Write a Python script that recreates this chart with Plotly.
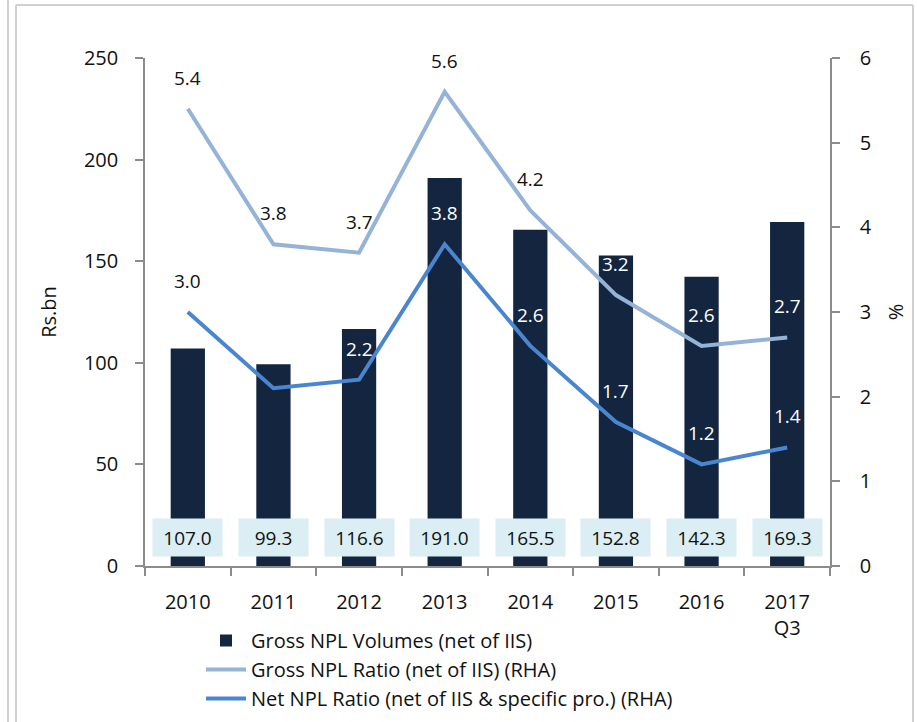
import plotly.graph_objects as go

# Non-performing loans, 2010 - 2017 Q3
years = ["2010", "2011", "2012", "2013", "2014", "2015", "2016", "2017<br>Q3"]
gross_npl_volumes = [107.0, 99.3, 116.6, 191.0, 165.5, 152.8, 142.3, 169.3]   # Rs.bn
gross_npl_ratio = [5.4, 3.8, 3.7, 5.6, 4.2, 3.2, 2.6, 2.7]                    # %
net_npl_ratio = [3.0, 2.1, 2.2, 3.8, 2.6, 1.7, 1.2, 1.4]                       # %

# label colour: white where the label sits on a dark bar
gross_label_colors = ["#111", "#111", "#111", "#111", "#111", "white", "white", "white"]
net_label_colors = ["#111", "white", "white", "white", "white", "white", "white", "white"]

# categories are placed at integer positions on a linear axis
pos = list(range(len(years)))
bounds = [p - 0.5 for p in pos] + [pos[-1] + 0.5]

BAR = "#13253F"
LIGHT = "#95B3D7"
MID = "#4A86D0"
BOX = "#DAEEF3"
GRID = "#8C8C8C"
FONT = "Open Sans"

W, H = 917, 722
L, R, T, B = 145, 87, 58, 156
pw, ph = W - L - R, H - T - B


def px_x(x):
    return (x - L) / pw


def px_y(y):
    return (H - B - y) / ph


fig = go.Figure()

fig.add_trace(go.Bar(
    x=pos, y=gross_npl_volumes, name="Gross NPL Volumes (net of IIS)",
    marker=dict(color=BAR, line=dict(width=0)), width=0.4, yaxis="y",
))
fig.add_trace(go.Scatter(
    x=pos, y=gross_npl_ratio, name="Gross NPL Ratio (net of IIS) (RHA)",
    mode="lines", line=dict(color=LIGHT, width=4), yaxis="y2",
))
fig.add_trace(go.Scatter(
    x=pos, y=net_npl_ratio, name="Net NPL Ratio (net of IIS & specific pro.) (RHA)",
    mode="lines", line=dict(color=MID, width=4), yaxis="y2",
))

annotations = []
# volume labels in boxes at the foot of each bar
for p, v in zip(pos, gross_npl_volumes):
    annotations.append(dict(
        x=p, y=0, xref="x", yref="y", yanchor="bottom", yshift=9,
        text=f"{v:.1f}", showarrow=False, bgcolor=BOX, borderpad=6,
        width=57, height=25, font=dict(family=FONT, size=19, color="#111"),
    ))
# ratio labels above the line points
for series, colors in ((gross_npl_ratio, gross_label_colors), (net_npl_ratio, net_label_colors)):
    for p, v, c in zip(pos, series, colors):
        annotations.append(dict(
            x=p, y=v, xref="x", yref="y2", yshift=31,
            text=f"{v:.1f}", showarrow=False,
            font=dict(family=FONT, size=19, color=c),
        ))

border = dict(type="line", xref="paper", yref="paper", line=dict(color="#D0D0D0", width=2))
shapes = [
    dict(border, x0=px_x(8), x1=px_x(8), y0=px_y(0), y1=px_y(H)),
    dict(border, x0=px_x(16), x1=px_x(16), y0=px_y(5), y1=px_y(H)),
    dict(border, x0=px_x(16), x1=px_x(913), y0=px_y(5), y1=px_y(5)),
    dict(border, x0=px_x(913), x1=px_x(913), y0=px_y(5), y1=px_y(H)),
]

axis_font = dict(family=FONT, size=20, color="#111")

fig.update_layout(
    width=W, height=H,
    margin=dict(l=L, r=R, t=T, b=B, pad=0, autoexpand=False),
    paper_bgcolor="white", plot_bgcolor="white",
    font=axis_font,
    showlegend=True,
    legend=dict(
        orientation="v", x=px_x(201), y=px_y(621), xanchor="left", yanchor="top",
        font=dict(family=FONT, size=20, color="#111"),
        itemwidth=40, tracegroupgap=0, bgcolor="rgba(0,0,0,0)",
    ),
    xaxis=dict(
        range=[bounds[0], bounds[-1]], showgrid=False, zeroline=False,
        showline=True, linecolor=GRID, linewidth=1.5,
        tickmode="array", tickvals=pos, ticktext=years, ticks="",
        tickfont=axis_font, ticklabelstandoff=17,
        minor=dict(tickmode="array", tickvals=bounds, ticks="outside", ticklen=8,
                   tickcolor=GRID, tickwidth=1.5, showgrid=False),
    ),
    yaxis=dict(
        range=[0, 250], dtick=50, showgrid=False, zeroline=False,
        showline=True, linecolor=GRID, linewidth=1.5,
        ticks="outside", ticklen=8, tickcolor=GRID, tickwidth=1.5,
        tickfont=axis_font, ticklabelstandoff=13,
        title=dict(text="Rs.bn", font=axis_font, standoff=22),
    ),
    yaxis2=dict(
        range=[0, 6], dtick=1, overlaying="y", side="right", showgrid=False, zeroline=False,
        showline=True, linecolor=GRID, linewidth=1.5,
        ticks="outside", ticklen=8, tickcolor=GRID, tickwidth=1.5,
        tickfont=axis_font, ticklabelstandoff=16,
        title=dict(text="%", font=axis_font, standoff=18),
    ),
    annotations=annotations,
    shapes=shapes,
)

fig.write_html("out.html")
